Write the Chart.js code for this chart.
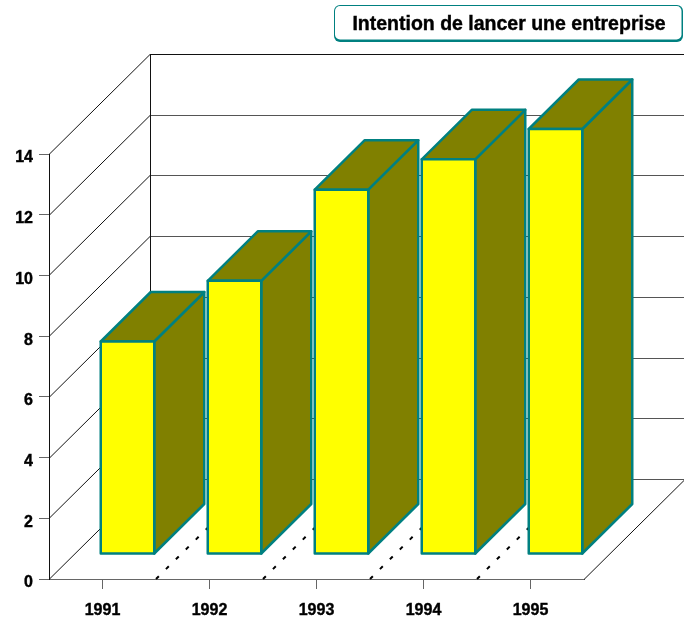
<!DOCTYPE html>
<html lang="fr">
<head>
<meta charset="utf-8">
<title>Intention de lancer une entreprise</title>
<style>
  html, body { margin: 0; padding: 0; background: #fff; }
  canvas { display: block; }
</style>
<script src="https://cdn.jsdelivr.net/npm/chart.js@4/dist/chart.umd.min.js"></script>
</head>
<body>
<canvas id="chart" width="684" height="620"></canvas>
<script>
const categories = ['1991', '1992', '1993', '1994', '1995'];
const values = [7, 9, 12, 13, 14];
const chartTitle = 'Intention de lancer une entreprise';

const TEAL = '#008080';
const YELLOW = '#ffff00';
const OLIVE = '#808000';
const FONT = '"Liberation Sans", Arial, sans-serif';

// Perspective offsets of the box: the wall sits behind the axis plane,
// bars stand a quarter of the way in and have half the box depth.
const WALL_DX = 101, WALL_DY = 100;
const BAR_SHIFT = 25, BAR_DX = 50, BAR_DY = 49.5;

function line(ctx, x1, y1, x2, y2) {
  ctx.beginPath();
  ctx.moveTo(x1, y1);
  ctx.lineTo(x2, y2);
  ctx.stroke();
}

function face(ctx, pts) {
  ctx.beginPath();
  pts.forEach((p, i) => i ? ctx.lineTo(p[0], p[1]) : ctx.moveTo(p[0], p[1]));
  ctx.closePath();
  ctx.fill();
  ctx.stroke();
}

// Back wall, side gridlines, floor edge and floor separators.
const wallPlugin = {
  id: 'wall',
  beforeDatasetsDraw(chart) {
    const { ctx, scales: { x, y }, chartArea: a, width } = chart;
    ctx.save();
    ctx.lineWidth = 1;
    y.ticks.forEach(t => {
      const py = Math.round(y.getPixelForValue(t.value)) + 0.5;
      ctx.strokeStyle = t.value === y.max ? '#111' : '#555';
      line(ctx, a.left + WALL_DX, py - WALL_DY, width, py - WALL_DY);
      ctx.strokeStyle = '#111';
      line(ctx, a.left, py, a.left + WALL_DX, py - WALL_DY);
    });
    ctx.strokeStyle = '#111';
    line(ctx, a.left + WALL_DX + 0.5, a.top - WALL_DY, a.left + WALL_DX + 0.5, a.bottom - WALL_DY);
    line(ctx, a.right, a.bottom + 0.5, a.right + WALL_DX, a.bottom - WALL_DY + 0.5);

    ctx.strokeStyle = '#000';
    ctx.lineWidth = 2;
    ctx.setLineDash([4, 10]);
    for (let i = 0; i < categories.length - 1; i++) {
      const mx = (x.getPixelForTick(i) + x.getPixelForTick(i + 1)) / 2;
      line(ctx, mx, a.bottom, mx + WALL_DX, a.bottom - WALL_DY);
    }
    ctx.restore();
  }
};

// Top and side faces of each bar, built on the geometry of the library's bar elements.
// The library fills the front face inside the shifted context; its outline goes on afterwards.
const extrudePlugin = {
  id: 'extrude',
  beforeDatasetDraw(chart) {
    const { ctx } = chart;
    ctx.save();
    ctx.fillStyle = OLIVE;
    ctx.strokeStyle = TEAL;
    ctx.lineWidth = 2.5;
    ctx.lineJoin = 'round';
    ctx.translate(BAR_SHIFT, -BAR_SHIFT);
    chart.getDatasetMeta(0).data.forEach(bar => {
      const l = bar.x - bar.width / 2, r = bar.x + bar.width / 2;
      const t = bar.y, b = bar.base;
      face(ctx, [[r, t], [r + BAR_DX, t - BAR_DY], [r + BAR_DX, b - BAR_DY], [r, b]]);
      face(ctx, [[l, t], [l + BAR_DX, t - BAR_DY], [r + BAR_DX, t - BAR_DY], [r, t]]);
    });
  },
  afterDatasetDraw(chart) {
    const { ctx } = chart;
    ctx.strokeStyle = TEAL;
    ctx.lineWidth = 2.5;
    ctx.lineJoin = 'round';
    chart.getDatasetMeta(0).data.forEach(bar => {
      ctx.strokeRect(bar.x - bar.width / 2, bar.y, bar.width, bar.base - bar.y);
    });
    ctx.restore();
  }
};

// Rounded caption box in the top right corner.
const captionPlugin = {
  id: 'caption',
  afterDraw(chart) {
    const { ctx } = chart;
    const bx = 334, by = 5, bw = 349, bh = 37;
    ctx.save();
    ctx.fillStyle = TEAL;
    ctx.beginPath();
    ctx.roundRect(bx, by, bw, bh, 6);
    ctx.fill();
    ctx.fillStyle = '#fff';
    ctx.beginPath();
    ctx.roundRect(bx + 1, by + 1, bw - 2.5, bh - 3.5, 5);
    ctx.fill();
    ctx.fillStyle = '#000';
    ctx.strokeStyle = '#000';
    ctx.lineWidth = 0.4;
    ctx.font = 'bold 19.5px ' + FONT;
    ctx.textAlign = 'center';
    ctx.textBaseline = 'middle';
    ctx.fillText(chartTitle, bx + bw / 2 + 0.5, by + 20);
    ctx.strokeText(chartTitle, bx + bw / 2 + 0.5, by + 20);
    ctx.restore();
  }
};

new Chart(document.getElementById('chart'), {
  type: 'bar',
  data: {
    labels: categories,
    datasets: [{
      data: values,
      backgroundColor: YELLOW,
      borderWidth: 0,
      categoryPercentage: 1,
      barPercentage: 0.5,
      clip: false
    }]
  },
  options: {
    responsive: false,
    animation: false,
    layout: { padding: { top: 154, right: 100, bottom: 0, left: 0 } },
    plugins: { legend: { display: false }, tooltip: { enabled: false } },
    scales: {
      x: {
        afterFit(s) { s.height = 41; },
        border: { color: '#666' },
        grid: { color: '#666', offset: false, drawOnChartArea: false, tickLength: 10 },
        ticks: {
          color: '#000', padding: 12, maxRotation: 0,
          textStrokeColor: '#000', textStrokeWidth: 0.4,
          font: { family: FONT, size: 16, weight: 'bold' }
        }
      },
      y: {
        min: 0,
        max: 14,
        afterFit(s) { s.width = 49; },
        border: { color: '#111' },
        grid: { color: '#666', drawOnChartArea: false, tickLength: 10 },
        ticks: {
          stepSize: 2, color: '#000', padding: 6, labelOffset: 4,
          textStrokeColor: '#000', textStrokeWidth: 0.4,
          font: { family: FONT, size: 16, weight: 'bold' }
        }
      }
    }
  },
  plugins: [wallPlugin, extrudePlugin, captionPlugin]
});
</script>
</body>
</html>
